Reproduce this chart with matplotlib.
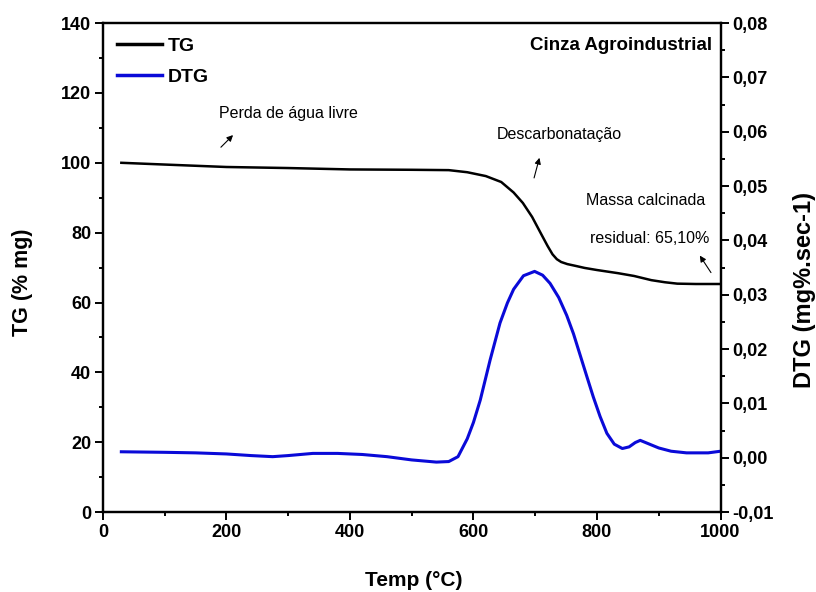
import numpy as np
import matplotlib.pyplot as plt
from matplotlib.ticker import MultipleLocator, FuncFormatter

plt.rcParams['font.family'] = ['Liberation Sans', 'DejaVu Sans']

# TG curve (% mass) vs temperature
tg_temp = [30, 100, 200, 300, 400, 500, 560, 590, 620, 645, 665, 680, 695, 710,
           720, 728, 735, 742, 752, 765, 780, 800, 834, 860, 888, 910, 930, 960, 1000]
tg_val = [100.0, 99.5, 98.8, 98.5, 98.1, 98.0, 97.9, 97.3, 96.2, 94.5, 91.5, 88.5,
          84.5, 79.5, 76.2, 73.8, 72.4, 71.6, 71.0, 70.5, 69.9, 69.3, 68.4, 67.6,
          66.4, 65.8, 65.4, 65.3, 65.3]

# DTG curve
dtg_temp = [30, 100, 150, 200, 240, 275, 300, 340, 380, 420, 460, 500, 540, 560,
            575, 590, 600, 611, 627, 643, 655, 665, 681, 699, 712, 724, 738, 751,
            762, 773, 784, 794, 805, 816, 828, 841, 852, 862, 870, 885, 900, 920,
            945, 980, 1000]
dtg_val = [0.0011, 0.0010, 0.0009, 0.0007, 0.0004, 0.0002, 0.0004, 0.0008, 0.0008,
           0.0006, 0.0002, -0.0004, -0.0008, -0.0007, 0.0002, 0.0035, 0.0065,
           0.0106, 0.0180, 0.0248, 0.0285, 0.0310, 0.0335, 0.0343, 0.0336, 0.0321,
           0.0295, 0.0262, 0.0228, 0.0188, 0.0148, 0.0112, 0.0076, 0.0045, 0.0025,
           0.0017, 0.0020, 0.0028, 0.0032, 0.0025, 0.0018, 0.0012, 0.0009, 0.0009,
           0.0012]

fig = plt.figure(figsize=(8.16, 5.92), dpi=100)
ax = fig.add_axes([0.126, 0.135, 0.757, 0.826])
ax2 = ax.twinx()

l1, = ax.plot(tg_temp, tg_val, color='black', lw=1.8, label='TG')
l2, = ax2.plot(dtg_temp, dtg_val, color='#0a0ad8', lw=2.2, label='DTG')

ax.set_xlim(0, 1000)
ax.set_ylim(0, 140)
ax2.set_ylim(-0.01, 0.08)

ax.xaxis.set_major_locator(MultipleLocator(200))
ax.xaxis.set_minor_locator(MultipleLocator(100))
ax.yaxis.set_major_locator(MultipleLocator(20))
ax.yaxis.set_minor_locator(MultipleLocator(10))
ax2.yaxis.set_major_locator(MultipleLocator(0.01))
ax2.yaxis.set_minor_locator(MultipleLocator(0.005))
ax2.yaxis.set_major_formatter(FuncFormatter(lambda v, p: f'{v:.2f}'.replace('.', ',').replace('-0,00', '0,00')))

for a in (ax, ax2):
    for s in a.spines.values():
        s.set_linewidth(1.6)
ax.tick_params(which='both', direction='out', width=1.4, top=False, right=False,
               labelsize=13, pad=2.5)
ax.tick_params(which='major', length=6)
ax.tick_params(which='minor', length=3)
ax2.tick_params(which='both', direction='out', width=1.4, labelsize=13, pad=2.5)
ax2.tick_params(which='major', length=6)
ax2.tick_params(which='minor', length=3)
for lab in ax.get_xticklabels() + ax.get_yticklabels() + ax2.get_yticklabels():
    lab.set_fontweight('bold')

ax.set_xlabel('Temp (°C)', fontsize=15, fontweight='bold')
ax.set_ylabel('TG (% mg)', fontsize=15.5, fontweight='bold')
ax2.set_ylabel('DTG (mg%.sec-1)', fontsize=17, fontweight='bold')
ax.xaxis.set_label_coords(0.503, -0.139)
ax.xaxis.label.set_va('center')
ax.yaxis.set_label_coords(-0.13, 0.47)
ax.yaxis.label.set_va('center')
ax2.yaxis.set_label_coords(1.136, 0.454)
ax2.yaxis.label.set_va('center')

leg = ax.legend([l1, l2], ['TG', 'DTG'], loc='upper left', frameon=False,
                prop={'weight': 'bold', 'size': 14}, handlelength=2.3,
                handletextpad=0.3, borderaxespad=0.35, labelspacing=0.65)
for h in leg.get_lines():
    h.set_linewidth(2.5)

ax.text(987, 133.7, 'Cinza Agroindustrial', ha='right', va='center',
        fontsize=13.5, fontweight='bold')
ax.text(188, 114.2, 'Perda de água livre', ha='left', va='center', fontsize=11.5)
ax.annotate('', xy=(214, 108.5), xytext=(188, 103.9),
            arrowprops=dict(arrowstyle='-|>', color='black', lw=0.8, mutation_scale=9))
ax.text(637, 108.2, 'Descarbonatação', ha='left', va='center', fontsize=11.5)
ax.annotate('', xy=(708, 102.2), xytext=(697, 94.9),
            arrowprops=dict(arrowstyle='-|>', color='black', lw=0.8, mutation_scale=9))
ax.text(783, 89.3, 'Massa calcinada', ha='left', va='center', fontsize=11.5)
ax.text(789, 78.2, 'residual: 65,10%', ha='left', va='center', fontsize=11.5)
ax.annotate('', xy=(964, 74.1), xytext=(987, 67.9),
            arrowprops=dict(arrowstyle='-|>', color='black', lw=0.8, mutation_scale=9))

fig.savefig('out.png', dpi=100)
